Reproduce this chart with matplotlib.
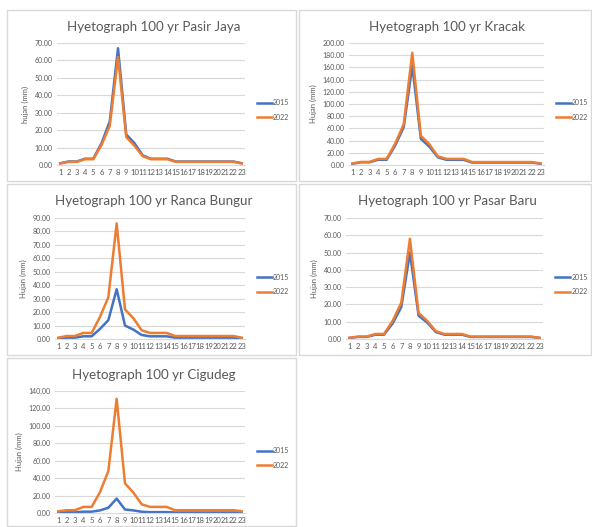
import matplotlib
matplotlib.use("Agg")
import matplotlib.pyplot as plt
from matplotlib.patches import Rectangle
from matplotlib.ticker import FuncFormatter

plt.rcParams['font.family'] = ['Lato', 'DejaVu Sans']

jam = list(range(1, 24))

pasir_jaya_2015 = [1.0, 2.0, 2.0, 3.6, 3.6, 12.5, 25.0, 67.0, 17.5, 12.5, 5.5, 3.6, 3.6, 3.6, 2.0, 2.0, 2.0, 2.0, 2.0, 2.0, 2.0, 2.0, 1.0]
pasir_jaya_2022 = [0.9, 1.8, 1.8, 3.3, 3.3, 11.5, 22.5, 62.0, 16.0, 11.0, 5.0, 3.3, 3.3, 3.3, 1.8, 1.8, 1.8, 1.8, 1.8, 1.8, 1.8, 1.8, 0.9]

kracak_2015 = [2.0, 4.5, 4.5, 8.5, 8.5, 32.0, 62.0, 163.0, 43.0, 30.0, 12.5, 8.5, 8.5, 8.5, 4.0, 4.0, 4.0, 4.0, 4.0, 4.0, 4.0, 4.0, 2.0]
kracak_2022 = [2.5, 5.0, 5.0, 10.0, 10.0, 35.0, 67.0, 184.0, 48.0, 34.0, 14.0, 10.0, 10.0, 10.0, 4.8, 4.8, 4.8, 4.8, 4.8, 4.8, 4.8, 4.8, 2.5]

ranca_2015 = [0.4, 1.0, 1.0, 2.0, 2.0, 7.5, 14.0, 37.0, 10.0, 7.0, 3.0, 2.0, 2.0, 2.0, 1.0, 1.0, 1.0, 1.0, 1.0, 1.0, 1.0, 1.0, 0.4]
ranca_2022 = [1.0, 2.2, 2.2, 4.5, 4.5, 16.5, 31.0, 86.0, 22.0, 15.5, 6.5, 4.5, 4.5, 4.5, 2.2, 2.2, 2.2, 2.2, 2.2, 2.2, 2.2, 2.2, 1.0]

pasar_baru_2015 = [0.6, 1.2, 1.2, 2.5, 2.5, 9.0, 18.5, 50.0, 13.5, 9.5, 4.0, 2.5, 2.5, 2.5, 1.2, 1.2, 1.2, 1.2, 1.2, 1.2, 1.2, 1.2, 0.6]
pasar_baru_2022 = [0.7, 1.4, 1.4, 2.9, 2.9, 10.5, 21.0, 58.0, 15.0, 10.5, 4.5, 2.9, 2.9, 2.9, 1.4, 1.4, 1.4, 1.4, 1.4, 1.4, 1.4, 1.4, 0.7]

cigudeg_2015 = [0.5, 0.8, 0.8, 1.5, 1.5, 3.0, 6.0, 16.5, 4.0, 3.0, 1.4, 1.0, 1.0, 1.0, 0.6, 0.6, 0.6, 0.6, 0.6, 0.6, 0.6, 0.6, 0.4]
cigudeg_2022 = [2.0, 3.2, 3.2, 7.0, 7.0, 24.0, 48.0, 131.0, 34.0, 23.5, 10.0, 7.0, 7.0, 7.0, 3.2, 3.2, 3.2, 3.2, 3.2, 3.2, 3.2, 3.2, 2.0]

W, H = 592, 527
fig = plt.figure(figsize=(W / 100, H / 100), dpi=100)

def fx(px):
    return px / W

def fy(py):
    return 1 - py / H

def panel(box, axbox, judul, ylab, d15, d22, ymax, step):
    x0, y0, x1, y1 = box
    fig.patches.append(Rectangle((fx(x0), fy(y1)), fx(x1 - x0), (y1 - y0) / H,
                                 transform=fig.transFigure, fill=False,
                                 edgecolor='#d9d9d9', linewidth=1.0))
    ax0, ay0, ax1, ay1 = axbox
    ax = fig.add_axes([fx(ax0), fy(ay1), fx(ax1 - ax0), (ay1 - ay0) / H])
    ax.plot(jam, d15, color='#4472C4', linewidth=1.8, label='2015')
    ax.plot(jam, d22, color='#ED7D31', linewidth=1.8, label='2022')
    ax.set_xlim(0.6, 23.4)
    ax.set_ylim(0, ymax)
    ax.set_yticks([i * step for i in range(int(round(ymax / step)) + 1)])
    ax.yaxis.set_major_formatter(FuncFormatter(lambda v, p: f"{v:.2f}"))
    ax.set_xticks(jam)
    ax.grid(axis='y', color='#d9d9d9', linewidth=0.8)
    ax.set_axisbelow(True)
    for s in ['top', 'right', 'left']:
        ax.spines[s].set_visible(False)
    ax.spines['bottom'].set_color('#d9d9d9')
    ax.tick_params(axis='both', length=0, labelsize=5, colors='#595959', pad=3)
    ax.tick_params(axis='x', labelsize=5.5)
    ax.set_ylabel(ylab, fontsize=5.5, color='#595959', labelpad=4)
    fig.text(fx((x0 + x1) / 2 + 2), fy(y0 + 17), judul, ha='center', va='center',
             fontsize=9.6, color='#595959')
    ax.legend(loc='center left', bbox_to_anchor=(1.03, 0.45), frameon=False,
              fontsize=5, handlelength=2.2, handletextpad=0.1, labelspacing=1.1,
              labelcolor='#595959')
    return ax

panel((7, 10, 296, 181), (57, 43, 245, 165), 'Hyetograph 100 yr Pasir Jaya', 'hujan (mm)',
      pasir_jaya_2015, pasir_jaya_2022, 70, 10)
panel((299, 10, 591, 181), (349, 43, 544, 165), 'Hyetograph 100 yr Kracak', 'Hujan (mm)',
      kracak_2015, kracak_2022, 200, 20)
panel((7, 184, 296, 355), (55, 218, 245, 339), 'Hyetograph 100 yr Ranca Bungur', 'Hujan (mm)',
      ranca_2015, ranca_2022, 90, 10)
panel((299, 184, 591, 355), (346, 218, 543, 339), 'Hyetograph 100 yr Pasar Baru', 'Hujan (mm)',
      pasar_baru_2015, pasar_baru_2022, 70, 10)
panel((7, 358, 296, 526), (55, 391, 245, 513), 'Hyetograph 100 yr Cigudeg', 'Hujan (mm)',
      cigudeg_2015, cigudeg_2022, 140, 20)

fig.savefig('out.png', dpi=100)
